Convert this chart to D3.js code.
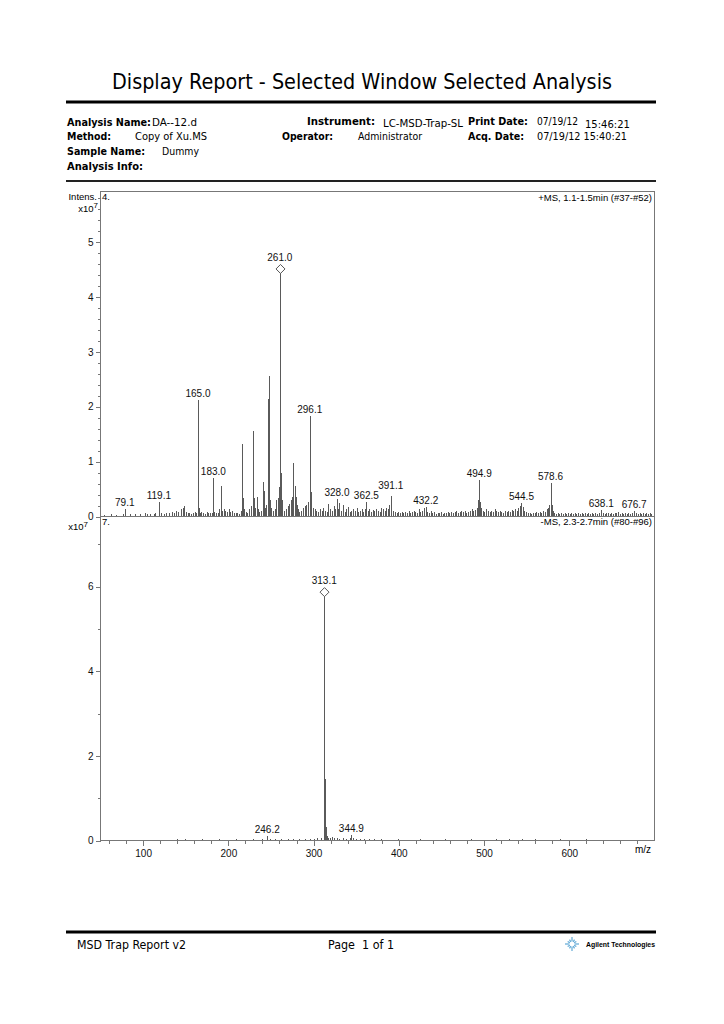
<!DOCTYPE html>
<html>
<head>
<meta charset="utf-8">
<script src="https://cdn.jsdelivr.net/npm/d3@7"></script>
<style>
  body { margin: 0; background: #fff; }
  svg { display: block; }
  text { font-family: "Liberation Sans", Arial, sans-serif; fill: #000; }
  .hdr { font-family: "DejaVu Sans", "Liberation Sans", sans-serif; font-size: 10px; }
  .hdrB { font-family: "DejaVu Sans", "Liberation Sans", sans-serif; font-size: 10px; font-weight: bold; }
  .tick text { font-size: 10px; }
  .peak { stroke: #5a5a5a; stroke-width: 1; shape-rendering: crispEdges; }
  .frame { fill: none; stroke: #777; stroke-width: 1; shape-rendering: crispEdges; }
  .axis path { display: none; }
  .axis line { stroke: #777; shape-rendering: crispEdges; }
  .plab { font-size: 10px; text-anchor: middle; fill: #111; }
</style>
</head>
<body>
<div class="chart"></div>
<script>
var w = 724;
var h = 1024;
var plotLeft = 100;
var plotRight = 654;
var topY0 = 191;
var midY = 516;
var botY0 = 840;

// x axis (m/z)
var mzDomain = [50, 700];
var mzTicks = [100, 200, 300, 400, 500, 600];

// intensity axes, in units of 1e7
var topIntDomain = [0, 5.92];
var topTicks = [0, 1, 2, 3, 4, 5];
var botIntDomain = [0, 7.66];
var botTicks = [0, 2, 4, 6];

// +MS spectrum, [m/z, intensity x1e7]
var topSpectrum = [
  [55, 0.02], [63, 0.03], [69, 0.02], [77, 0.03], [79.1, 0.12], [85, 0.03], [91, 0.04], [97, 0.03],
  [103, 0.05], [105, 0.04], [109, 0.03], [113, 0.04], [115, 0.05], [119.1, 0.25], [121, 0.05], [125, 0.04],
  [128, 0.06], [131, 0.05], [135, 0.08], [137, 0.06], [139, 0.10], [141, 0.07], [145, 0.12], [147, 0.15],
  [149, 0.18], [151, 0.08], [153, 0.05], [155, 0.06], [157, 0.04], [159, 0.05], [161, 0.07], [163, 0.06],
  [165.0, 2.12], [166, 0.15], [167, 0.06], [169, 0.08], [171, 0.05], [173, 0.04], [175, 0.07], [177, 0.05],
  [179, 0.06], [181, 0.05], [183.0, 0.70], [184, 0.08], [186, 0.05], [188, 0.06], [190, 0.12], [192, 0.55],
  [193, 0.10], [195, 0.12], [197, 0.09], [199, 0.08], [201, 0.13], [203, 0.07], [205, 0.10], [207, 0.06],
  [209, 0.05], [211, 0.06], [213, 0.04], [215, 0.09], [217, 1.31], [218, 0.33], [219, 0.12], [221, 0.07],
  [223, 0.05], [225, 0.13], [227, 0.18], [229, 0.22], [230, 1.55], [231, 0.32], [232, 0.15], [234, 0.35],
  [235, 0.12], [237, 0.08], [239, 0.10], [241.5, 0.62], [242.5, 0.45], [244, 0.15], [245, 0.20], [247, 2.13],
  [248.3, 2.55], [249, 0.30], [250, 0.28], [251, 0.15], [253, 0.10], [255, 0.12], [257, 0.30], [258.5, 0.33],
  [259.5, 0.52], [261.0, 4.50], [262, 0.78], [263, 0.30], [264, 0.15], [266, 0.10], [268, 0.12], [270, 0.18],
  [272, 0.22], [274, 0.30], [275, 0.35], [277, 0.97], [278.5, 0.55], [279.5, 0.35], [281, 0.20], [282, 0.12],
  [284, 0.08], [286, 0.10], [288, 0.15], [290, 0.18], [292, 0.20], [294, 0.25], [296.1, 1.83], [297.1, 0.44],
  [298, 0.20], [300, 0.15], [302, 0.12], [304, 0.10], [306, 0.08], [308, 0.12], [310, 0.09], [312, 0.14],
  [314, 0.10], [316, 0.08], [318, 0.22], [320, 0.12], [322, 0.10], [324, 0.18], [326, 0.12], [328.0, 0.31],
  [329, 0.12], [331, 0.23], [333, 0.10], [335, 0.20], [337, 0.08], [339, 0.12], [341, 0.16], [343, 0.08],
  [345, 0.10], [347, 0.12], [349, 0.09], [351, 0.14], [353, 0.08], [355, 0.10], [357, 0.13], [359, 0.08],
  [361, 0.12], [362.5, 0.26], [364, 0.10], [366, 0.13], [368, 0.08], [370, 0.11], [372, 0.09], [374, 0.13],
  [376, 0.10], [378, 0.08], [380, 0.14], [382, 0.12], [384, 0.09], [386, 0.15], [388, 0.12], [389.5, 0.20],
  [391.1, 0.36], [392, 0.14], [394, 0.10], [396, 0.08], [398, 0.06], [400, 0.08], [402, 0.05], [404, 0.07],
  [406, 0.05], [408, 0.08], [410, 0.06], [412, 0.09], [414, 0.05], [416, 0.07], [418, 0.10], [420, 0.08],
  [422, 0.06], [424, 0.12], [426, 0.08], [428, 0.10], [430, 0.14], [432.2, 0.17], [434, 0.08], [436, 0.06],
  [438, 0.09], [440, 0.05], [442, 0.07], [444, 0.04], [446, 0.06], [448, 0.05], [450, 0.07], [452, 0.04],
  [454, 0.06], [456, 0.05], [458, 0.07], [460, 0.06], [462, 0.08], [464, 0.05], [466, 0.07], [468, 0.09],
  [470, 0.06], [472, 0.08], [474, 0.10], [476, 0.07], [478, 0.09], [480, 0.06], [482, 0.08], [484, 0.10],
  [486, 0.12], [488, 0.09], [490, 0.11], [492, 0.15], [493.5, 0.30], [494.9, 0.65], [496, 0.25], [497, 0.15],
  [499, 0.10], [501, 0.08], [503, 0.12], [505, 0.09], [507, 0.07], [509, 0.10], [511, 0.08], [513, 0.12],
  [515, 0.09], [517, 0.07], [519, 0.10], [521, 0.08], [523, 0.06], [525, 0.09], [527, 0.07], [529, 0.10],
  [531, 0.08], [533, 0.11], [535, 0.09], [537, 0.13], [539, 0.10], [541, 0.15], [542.5, 0.18], [544.5, 0.24],
  [546, 0.16], [548, 0.10], [550, 0.07], [552, 0.05], [554, 0.06], [556, 0.04], [558, 0.06], [560, 0.05],
  [562, 0.07], [564, 0.05], [566, 0.08], [568, 0.06], [570, 0.10], [572, 0.08], [574, 0.12], [575.5, 0.15],
  [577, 0.20], [578.6, 0.60], [580, 0.20], [581, 0.10], [583, 0.06], [585, 0.04], [587, 0.05], [589, 0.03],
  [591, 0.05], [593, 0.04], [595, 0.06], [597, 0.04], [599, 0.05], [601, 0.03], [603, 0.05], [605, 0.04],
  [607, 0.06], [609, 0.04], [611, 0.05], [613, 0.03], [615, 0.05], [617, 0.04], [619, 0.06], [621, 0.04],
  [623, 0.05], [625, 0.04], [627, 0.06], [629, 0.04], [631, 0.05], [633, 0.04], [635, 0.06], [638.1, 0.11],
  [640, 0.05], [642, 0.04], [644, 0.05], [646, 0.06], [648, 0.04], [650, 0.05], [652, 0.04], [654, 0.06],
  [656, 0.05], [658, 0.07], [660, 0.04], [662, 0.05], [664, 0.04], [666, 0.06], [668, 0.04], [670, 0.05],
  [672, 0.04], [674, 0.06], [676.7, 0.10], [679, 0.05], [681, 0.04], [683, 0.05], [685, 0.04], [687, 0.05],
  [689, 0.04], [691, 0.05], [693, 0.04], [695, 0.05], [697, 0.04]
];
var topLabels = [79.1, 119.1, 165.0, 183.0, 261.0, 296.1, 328.0, 362.5, 391.1, 432.2, 494.9, 544.5, 578.6, 638.1, 676.7];
var topPrecursor = 261.0;

// -MS spectrum
var botSpectrum = [
  [55, 0.01], [70, 0.01], [90, 0.01], [110, 0.01], [125, 0.01], [140, 0.02], [150, 0.02], [160, 0.01],
  [170, 0.02], [180, 0.01], [190, 0.02], [200, 0.01], [210, 0.02], [220, 0.01], [230, 0.02], [240, 0.02],
  [246.2, 0.10], [250, 0.02], [255, 0.02], [262, 0.02], [270, 0.03], [276, 0.02], [283, 0.02], [290, 0.03],
  [296, 0.02], [301, 0.03], [305, 0.04], [309, 0.05], [312.6, 0.85], [313.1, 5.86], [313.6, 1.45], [314.1, 0.88],
  [315, 0.30], [316, 0.10], [318, 0.05], [320, 0.04], [322, 0.06], [325, 0.04], [328, 0.05], [331, 0.03],
  [335, 0.04], [339, 0.03], [343, 0.05], [344.9, 0.12], [347, 0.04], [350, 0.03], [355, 0.02], [360, 0.03],
  [366, 0.02], [372, 0.02], [380, 0.02], [390, 0.01], [400, 0.02], [412, 0.01], [425, 0.02], [440, 0.01],
  [455, 0.02], [470, 0.01], [485, 0.02], [500, 0.01], [515, 0.02], [530, 0.03], [545, 0.02], [560, 0.02],
  [575, 0.01], [590, 0.02], [605, 0.01], [620, 0.02], [640, 0.01], [660, 0.01], [680, 0.01]
];
var botLabels = [246.2, 313.1, 344.9];
var botPrecursor = 313.1;

var svg = d3.select(".chart").append("svg")
            .attr("width", w)
            .attr("height", h);

// ---- header ----
svg.append("text")
   .attr("x", 362)
   .attr("y", 89)
   .attr("text-anchor", "middle")
   .attr("textLength", 500)
   .attr("lengthAdjust", "spacingAndGlyphs")
   .style("font-family", "'DejaVu Sans', sans-serif")
   .style("font-size", "22px")
   .text("Display Report - Selected Window Selected Analysis");

svg.append("line")
   .attr("x1", 66).attr("x2", 656)
   .attr("y1", 102).attr("y2", 102)
   .style("stroke", "#000").style("stroke-width", 3);

var hdrFields = [
  {x: 67, y: 126, t: "Analysis Name:", b: true, len: 84},
  {x: 152, y: 126, t: "DA--12.d", b: false, len: 45},
  {x: 67, y: 140, t: "Method:", b: true, len: 44},
  {x: 135, y: 140, t: "Copy of Xu.MS", b: false, len: 72},
  {x: 67, y: 155, t: "Sample Name:", b: true, len: 78},
  {x: 162, y: 155, t: "Dummy", b: false, len: 37},
  {x: 67, y: 170, t: "Analysis Info:", b: true, len: 76},
  {x: 307, y: 125, t: "Instrument:", b: true, len: 68},
  {x: 383, y: 127, t: "LC-MSD-Trap-SL", b: false, len: 80},
  {x: 282, y: 140, t: "Operator:", b: true, len: 51},
  {x: 358, y: 140, t: "Administrator", b: false, len: 64},
  {x: 468, y: 125, t: "Print Date:", b: true, len: 60},
  {x: 537, y: 125, t: "07/19/12", b: false, len: 41},
  {x: 585, y: 128, t: "15:46:21", b: false, len: 45},
  {x: 468, y: 140, t: "Acq. Date:", b: true, len: 56},
  {x: 537, y: 140, t: "07/19/12 15:40:21", b: false, len: 90}
];
svg.selectAll("text.hdrField")
   .data(hdrFields)
   .enter()
   .append("text")
   .attr("class", function(d) { return d.b ? "hdrB" : "hdr"; })
   .attr("x", function(d) { return d.x; })
   .attr("y", function(d) { return d.y; })
   .attr("textLength", function(d) { return d.len; })
   .attr("lengthAdjust", "spacingAndGlyphs")
   .text(function(d) { return d.t; });

svg.append("line")
   .attr("x1", 66).attr("x2", 656)
   .attr("y1", 181).attr("y2", 181)
   .style("stroke", "#222").style("stroke-width", 2);

// ---- scales ----
var xScale = d3.scaleLinear()
               .domain(mzDomain)
               .range([plotLeft, plotRight]);

var yTop = d3.scaleLinear()
             .domain(topIntDomain)
             .range([midY, topY0]);

var yBot = d3.scaleLinear()
             .domain(botIntDomain)
             .range([botY0, midY]);

var px = function(v) { return Math.round(v) + 0.5; };

var drawSpectrum = function(spectrum, yScale, labels, precursor) {
  var g = svg.append("g");

  g.selectAll("line.peak")
   .data(spectrum)
   .enter()
   .append("line")
   .attr("class", "peak")
   .attr("x1", function(d) { return px(xScale(d[0])); })
   .attr("x2", function(d) { return px(xScale(d[0])); })
   .attr("y1", yScale(0))
   .attr("y2", function(d) { return yScale(d[1]); });

  var labelled = spectrum.filter(function(d) { return labels.indexOf(d[0]) >= 0; });

  // precursor diamond
  var pre = spectrum.filter(function(d) { return d[0] == precursor; })[0];
  var cx = px(xScale(pre[0]));
  var cy = yScale(pre[1]);
  g.append("path")
   .attr("d", "M" + cx + "," + (cy - 4.5) + "L" + (cx + 4.5) + "," + cy + "L" + cx + "," + (cy + 4.5) + "L" + (cx - 4.5) + "," + cy + "Z")
   .style("fill", "#fff")
   .style("stroke", "#555");

  g.selectAll("text.plab")
   .data(labelled)
   .enter()
   .append("text")
   .attr("class", "plab")
   .attr("x", function(d) { return xScale(d[0]); })
   .attr("y", function(d) {
     var off = (d[0] == precursor) ? 8 : 3;
     var extra = (d[0] == 391.1) ? 4 : 0;
     return yScale(d[1]) - off - extra;
   })
   .text(function(d) { return d[0].toFixed(1); });
};

// ---- frames ----
svg.append("rect")
   .attr("class", "frame")
   .attr("x", plotLeft + 0.5).attr("y", topY0 + 0.5)
   .attr("width", plotRight - plotLeft).attr("height", midY - topY0);
svg.append("rect")
   .attr("class", "frame")
   .attr("x", plotLeft + 0.5).attr("y", midY + 0.5)
   .attr("width", plotRight - plotLeft).attr("height", botY0 - midY);

drawSpectrum(topSpectrum, yTop, topLabels, topPrecursor);
drawSpectrum(botSpectrum, yBot, botLabels, botPrecursor);

// ---- axes ----
var yAxisTop = d3.axisLeft(yTop)
                 .tickValues(topTicks)
                 .tickSize(5)
                 .tickPadding(2)
                 .tickFormat(d3.format("d"));
var yMinorTop = d3.axisLeft(yTop)
                  .tickValues(d3.range(0.2, 5.9, 0.2))
                  .tickSize(3)
                  .tickFormat("");
var yAxisBot = d3.axisLeft(yBot)
                 .tickValues(botTicks)
                 .tickSize(5)
                 .tickPadding(2)
                 .tickFormat(d3.format("d"));
var yMinorBot = d3.axisLeft(yBot)
                  .tickValues([1, 3, 5, 7])
                  .tickSize(3)
                  .tickFormat("");
var xAxis = d3.axisBottom(xScale)
              .tickValues(mzTicks)
              .tickSize(5)
              .tickPadding(4);
var xMinor = d3.axisBottom(xScale)
               .tickValues(d3.range(60, 700, 20))
               .tickSize(3)
               .tickFormat("");

[yAxisTop, yMinorTop, yAxisBot, yMinorBot].forEach(function(ax) {
  svg.append("g")
     .attr("class", "axis")
     .attr("transform", "translate(" + (plotLeft + 0.5) + ",0.5)")
     .call(ax);
});
[xAxis, xMinor].forEach(function(ax) {
  svg.append("g")
     .attr("class", "axis")
     .attr("transform", "translate(0.5," + (botY0 + 0.5) + ")")
     .call(ax);
});
svg.selectAll(".tick text").style("font-size", "10px").style("fill", "#111");

svg.append("text")
   .attr("x", 643).attr("y", 853)
   .attr("text-anchor", "middle")
   .style("font-size", "10px")
   .text("m/z");

// ---- plot captions ----
var capt = svg.append("g").style("font-size", "9.5px");
capt.append("text").attr("x", 97).attr("y", 200).attr("text-anchor", "end").text("Intens.");
capt.append("text").attr("x", 98).attr("y", 212).attr("text-anchor", "end")
    .html('x10<tspan dy="-4" font-size="8px">7</tspan>');
capt.append("text").attr("x", 102).attr("y", 200).text("4.");
capt.append("text").attr("x", 652).attr("y", 201).attr("text-anchor", "end").text("+MS, 1.1-1.5min (#37-#52)");
capt.append("text").attr("x", 88).attr("y", 530).attr("text-anchor", "end")
    .html('x10<tspan dy="-3" font-size="8px">7</tspan>');
capt.append("text").attr("x", 102).attr("y", 525).text("7.");
capt.append("text").attr("x", 652).attr("y", 525).attr("text-anchor", "end").text("-MS, 2.3-2.7min (#80-#96)");

// ---- footer ----
svg.append("line")
   .attr("x1", 66).attr("x2", 656)
   .attr("y1", 932).attr("y2", 932)
   .style("stroke", "#000").style("stroke-width", 3);

svg.append("text")
   .attr("x", 77).attr("y", 949)
   .attr("textLength", 109)
   .attr("lengthAdjust", "spacingAndGlyphs")
   .style("font-family", "'DejaVu Sans', sans-serif")
   .style("font-size", "12px")
   .text("MSD Trap Report v2");

svg.append("text")
   .attr("x", 328).attr("y", 949)
   .attr("textLength", 66)
   .attr("lengthAdjust", "spacingAndGlyphs")
   .style("font-family", "'DejaVu Sans', sans-serif")
   .style("font-size", "12px")
   .style("white-space", "pre")
   .text("Page  1 of 1");

// agilent spark logo
var rays = d3.range(0, 360, 30);
svg.append("g")
   .attr("transform", "translate(572,944)")
   .selectAll("line")
   .data(rays)
   .enter()
   .append("line")
   .attr("x1", function(a) { return 2.5 * Math.cos(a * Math.PI / 180); })
   .attr("y1", function(a) { return 2.5 * Math.sin(a * Math.PI / 180); })
   .attr("x2", function(a) { return (a % 90 == 0 ? 7 : 5) * Math.cos(a * Math.PI / 180); })
   .attr("y2", function(a) { return (a % 90 == 0 ? 7 : 5) * Math.sin(a * Math.PI / 180); })
   .style("stroke", "#5fa8d6")
   .style("stroke-width", 1.2);

svg.append("text")
   .attr("x", 586).attr("y", 947)
   .attr("textLength", 69)
   .attr("lengthAdjust", "spacingAndGlyphs")
   .style("font-size", "8px")
   .style("font-weight", "bold")
   .text("Agilent Technologies");
</script>
</body>
</html>
